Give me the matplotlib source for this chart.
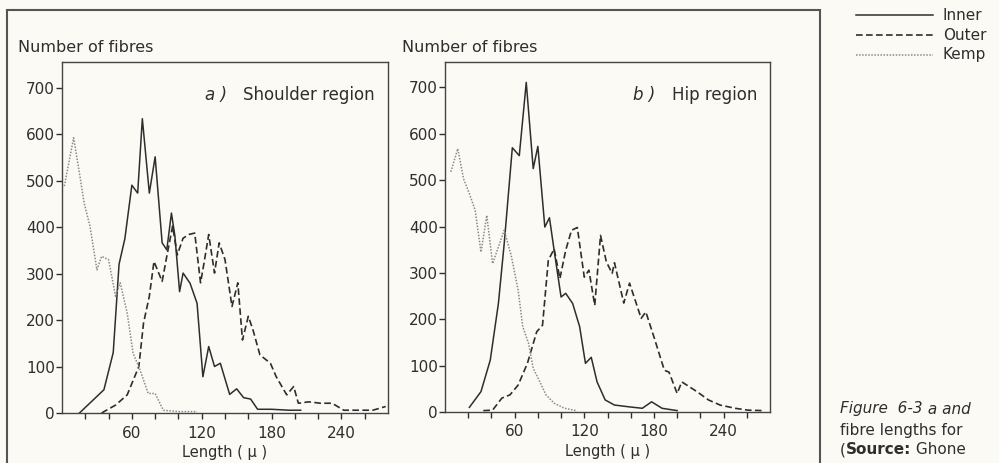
import matplotlib
matplotlib.use("Agg")
import matplotlib.pyplot as plt
from matplotlib.lines import Line2D
from matplotlib.patches import Rectangle

# --- data (length in micron, number of fibres) ---
# a) shoulder region
sh_inner_x = [15, 36, 44, 49, 54, 60, 65, 69, 75, 80, 86, 90, 94, 97, 101, 104, 110, 116,
              121, 126, 131, 136, 144, 150, 156, 162, 168, 180, 195, 205]
sh_inner_y = [0, 50, 130, 320, 375, 490, 473, 633, 473, 551, 366, 351, 430, 380, 261, 301, 279, 236,
              78, 143, 100, 107, 40, 52, 33, 30, 8, 8, 6, 6]
sh_outer_x = [34, 46, 56, 66, 70, 75, 79, 86, 90, 95, 99, 104, 109, 114, 119, 122, 126, 131, 135,
              140, 146, 151, 155, 160, 164, 170, 179, 184, 193, 199, 203, 212, 222, 232, 242, 253, 267, 278]
sh_outer_y = [0, 17, 39, 100, 193, 251, 326, 283, 337, 402, 340, 376, 384, 387, 280, 323, 384, 301, 366,
              330, 229, 280, 157, 208, 179, 125, 107, 78, 39, 57, 21, 24, 21, 21, 6, 6, 6, 14]
sh_kemp_x = [2, 10, 14, 19, 24, 30, 34, 40, 46, 50, 56, 61, 67, 74, 80, 87, 100, 116]
sh_kemp_y = [488, 592, 531, 452, 402, 308, 337, 330, 251, 280, 215, 129, 93, 42, 42, 6, 3, 3]

# b) hip region
hip_inner_x = [21, 31, 39, 46, 51, 58, 64, 70, 76, 80, 86, 90, 94, 100, 104, 110, 116, 121, 126,
               131, 138, 146, 159, 170, 178, 187, 200]
hip_inner_y = [10, 44, 112, 234, 363, 570, 553, 711, 525, 573, 399, 419, 349, 248, 256, 234, 184, 105, 118,
               65, 26, 15, 11, 8, 22, 8, 3]
hip_outer_x = [33, 41, 49, 56, 63, 71, 79, 84, 89, 94, 99, 104, 109, 114, 120, 124, 129, 134, 139, 144,
               146, 154, 159, 169, 173, 180, 189, 193, 200, 204, 217, 227, 237, 250, 261, 274]
hip_outer_y = [3, 4, 30, 37, 58, 105, 173, 187, 327, 352, 288, 349, 392, 398, 291, 306, 230, 381, 324, 299,
               322, 235, 278, 202, 216, 162, 90, 86, 40, 65, 44, 26, 15, 8, 4, 3]
hip_kemp_x = [5, 11, 16, 21, 26, 31, 36, 41, 46, 51, 57, 63, 67, 72, 76, 81, 87, 94, 103, 113]
hip_kemp_y = [518, 568, 503, 471, 435, 345, 424, 320, 356, 392, 338, 263, 184, 148, 94, 69, 37, 19, 8, 3]

panels = ["a )", "b )"]
panel_titles = ["Shoulder region", "Hip region"]
series_names = ["Inner", "Outer", "Kemp"]
x_major = [60, 120, 180, 240]
x_minor = list(range(20, 280, 20))
y_ticks = [0, 100, 200, 300, 400, 500, 600, 700]

INK = "#2e2e2e"
KEMP = "#8a8a8a"
BG = "#fbfaf5"
styles = {
    "Inner": dict(color=INK, lw=1.1, ls="-"),
    "Outer": dict(color=INK, lw=1.2, ls=(0, (4, 2))),
    "Kemp": dict(color=KEMP, lw=1.1, ls=(0, (1, 1))),
}

fig = plt.figure(figsize=(9.99, 4.63), dpi=100, facecolor=BG)

# outer frame of the printed figure (runs off the bottom of the scan)
fig.add_artist(Rectangle((7 / 999, -0.2), 813 / 999, 1.2 - 10 / 463, transform=fig.transFigure,
                         fill=False, ec="#555555", lw=1.5))

axes = [fig.add_axes([62 / 999, 50 / 463, 326 / 999, 351 / 463]),
        fig.add_axes([445 / 999, 51 / 463, 325 / 999, 350 / 463])]
data = [
    [(sh_inner_x, sh_inner_y), (sh_outer_x, sh_outer_y), (sh_kemp_x, sh_kemp_y)],
    [(hip_inner_x, hip_inner_y), (hip_outer_x, hip_outer_y), (hip_kemp_x, hip_kemp_y)],
]

for ax, series, tag, title in zip(axes, data, panels, panel_titles):
    ax.set_facecolor(BG)
    for name, (xs, ys) in zip(series_names, series):
        ax.plot(xs, ys, **styles[name])
    ax.set_xlim(0, 280)
    ax.set_ylim(0, 755)
    ax.set_xticks(x_major)
    ax.set_xticks(x_minor, minor=True)
    ax.set_yticks(y_ticks)
    ax.tick_params(axis="both", which="both", direction="out", length=4, width=1, color=INK,
                   labelcolor=INK, labelsize=11)
    ax.tick_params(axis="x", pad=5)
    ax.tick_params(axis="y", pad=1)
    for s in ax.spines.values():
        s.set_color("#444444")
        s.set_linewidth(1.0)
    ax.set_xlabel("Length ( \u03bc )", fontsize=10.5, color=INK, labelpad=3)
    ax.text(0.96, 0.905, tag + "  ", transform=ax.transAxes, ha="right", va="center",
            fontsize=12, style="italic", color=INK)
    ax.text(0.96, 0.905, title, transform=ax.transAxes, ha="right", va="center",
            fontsize=12, color=INK)

fig.text(18 / 999, 1 - 48 / 463, "Number of fibres", fontsize=11.5, color=INK, va="center")
fig.text(402 / 999, 1 - 48 / 463, "Number of fibres", fontsize=11.5, color=INK, va="center")

# legend drawn by hand in the top right corner
for i, name in enumerate(series_names):
    yy = 1 - (15 + 20 * i) / 463
    fig.add_artist(Line2D([856 / 999, 933 / 999], [yy, yy], transform=fig.transFigure, **styles[name]))
    fig.text(943 / 999, yy, name, fontsize=11, color=INK, va="center")

# caption (the scan cuts it off, keep only what is visible)
cap1 = fig.text(840 / 999, 1 - 409 / 463, "Figure  6-3", fontsize=11, style="italic",
                color=INK, va="center")
cap1b = fig.text(0, 1 - 409 / 463, " a and", fontsize=11, style="italic", color=INK, va="center")
cap2 = fig.text(840 / 999, 1 - 430 / 463, "fibre lengths for", fontsize=11, color=INK, va="center")
cap3 = fig.text(840 / 999, 1 - 450 / 463, "(", fontsize=11, color=INK, va="center")
cap3b = fig.text(0, 1 - 450 / 463, "Source:", fontsize=11, weight="bold", color=INK, va="center")
cap3c = fig.text(0, 1 - 450 / 463, " Ghone", fontsize=11, color=INK, va="center")

# place the panel letters and caption pieces next to each other
fig.canvas.draw()
r = fig.canvas.get_renderer()
for ax in axes:
    tag_txt, name_txt = ax.texts[-2], ax.texts[-1]
    w = name_txt.get_window_extent(r).width
    x0 = ax.transAxes.transform((0.96, 0))[0] - w
    tag_txt.set_x(ax.transAxes.inverted().transform((x0 - 6, 0))[0])
W = fig.bbox.width
cap1b.set_x(cap1.get_window_extent(r).x1 / W)
cap3b.set_x(cap3.get_window_extent(r).x1 / W)
fig.canvas.draw()
cap3c.set_x(cap3b.get_window_extent(r).x1 / W)

fig.savefig("out.png", dpi=100, facecolor=BG)
